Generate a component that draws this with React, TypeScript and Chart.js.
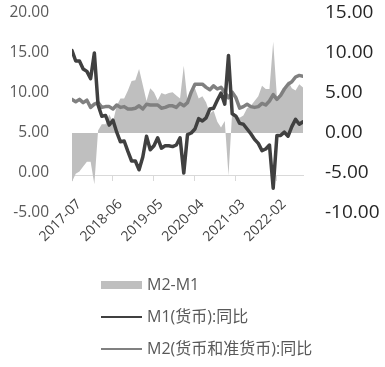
import React, { useEffect, useRef } from "react";
import { Chart, registerables } from "chart.js";

Chart.register(...registerables);

const FONT = '"Open Sans", "Noto Sans CJK SC", sans-serif';

const months = [
  "2017-07", "2017-08", "2017-09", "2017-10", "2017-11", "2017-12",
  "2018-01", "2018-02", "2018-03", "2018-04", "2018-05", "2018-06",
  "2018-07", "2018-08", "2018-09", "2018-10", "2018-11", "2018-12",
  "2019-01", "2019-02", "2019-03", "2019-04", "2019-05", "2019-06",
  "2019-07", "2019-08", "2019-09", "2019-10", "2019-11", "2019-12",
  "2020-01", "2020-02", "2020-03", "2020-04", "2020-05", "2020-06",
  "2020-07", "2020-08", "2020-09", "2020-10", "2020-11", "2020-12",
  "2021-01", "2021-02", "2021-03", "2021-04", "2021-05", "2021-06",
  "2021-07", "2021-08", "2021-09", "2021-10", "2021-11", "2021-12",
  "2022-01", "2022-02", "2022-03", "2022-04", "2022-05", "2022-06",
  "2022-07", "2022-08", "2022-09",
];

// M1 (货币) 同比, %
const m1 = [
  15.3, 14.0, 14.0, 13.0, 12.7, 11.8,
  15.0, 8.5, 7.1, 7.2, 6.0, 6.6,
  5.1, 3.9, 4.0, 2.7, 1.5, 1.5,
  0.4, 2.0, 4.6, 2.9, 3.4, 4.4,
  3.1, 3.4, 3.4, 3.3, 3.5, 4.4,
  0.0, 4.8, 5.0, 5.5, 6.8, 6.5,
  6.9, 8.0, 8.1, 9.1, 10.0, 8.6,
  14.7, 7.4, 7.1, 6.2, 6.1, 5.5,
  4.9, 4.2, 3.7, 2.8, 3.0, 3.5,
  -1.9, 4.7, 4.7, 5.1, 4.6, 5.8,
  6.7, 6.1, 6.4,
];

// M2 (货币和准货币) 同比, %
const m2 = [
  9.2, 8.9, 9.2, 8.8, 9.1, 8.2,
  8.6, 8.8, 8.2, 8.3, 8.3, 8.0,
  8.5, 8.2, 8.3, 8.0, 8.0, 8.1,
  8.4, 8.0, 8.6, 8.5, 8.5, 8.5,
  8.1, 8.2, 8.4, 8.4, 8.2, 8.7,
  8.4, 8.8, 10.1, 11.1, 11.1, 11.1,
  10.7, 10.4, 10.9, 10.5, 10.7, 10.1,
  9.4, 10.1, 9.4, 8.1, 8.3, 8.6,
  8.3, 8.2, 8.3, 8.7, 8.5, 9.0,
  9.8, 9.2, 9.7, 10.5, 11.1, 11.4,
  12.0, 12.2, 12.1,
];

// M2-M1 spread (right axis), percentage points
const spread = [
  -6.1, -5.1, -4.8, -4.2, -3.6, -3.6,
  -6.4, 0.3, 1.1, 1.1, 2.3, 1.4,
  3.4, 4.3, 4.3, 5.3, 6.5, 6.6,
  8.0, 6.0, 4.0, 5.6, 5.1, 4.1,
  5.0, 4.8, 5.0, 5.1, 4.7, 4.3,
  8.4, 4.0, 5.1, 5.6, 4.3, 4.6,
  3.8, 2.4, 2.8, 1.4, 0.7, 1.5,
  -5.3, 2.7, 2.3, 1.9, 2.2, 3.1,
  3.4, 4.0, 4.6, 5.9, 5.5, 5.5,
  11.4, 4.5, 5.0, 5.4, 6.5, 5.6,
  5.3, 6.1, 5.7,
];

const seriesNames = ["M2-M1", "M1(货币):同比", "M2(货币和准货币):同比"];

const leftAxis = { min: -5, max: 20, step: 5 };
const rightAxis = { min: -10, max: 15, step: 5 };
const xTickStep = 11;

const toPoints = (arr: number[]) => arr.map((v, i) => ({ x: i, y: v }));

const stackedLegend = {
  id: "stackedLegend",
  afterDraw(chart: any) {
    const ctx = chart.ctx;
    ctx.save();
    chart.data.datasets.forEach((ds: any, i: number) => {
      const y = 285 + i * 32;
      if (ds.fill) {
        ctx.fillStyle = ds.backgroundColor;
        ctx.fillRect(101, y - 4, 41, 8);
      } else {
        ctx.strokeStyle = ds.borderColor;
        ctx.lineWidth = 2;
        ctx.beginPath();
        ctx.moveTo(101, y);
        ctx.lineTo(142, y);
        ctx.stroke();
      }
      ctx.fillStyle = "#595959";
      ctx.font = `16px ${FONT}`;
      ctx.textAlign = "left";
      ctx.textBaseline = "middle";
      ctx.fillText(ds.label, 147, y);
    });
    ctx.restore();
  },
};

export default function App() {
  const ref = useRef<HTMLCanvasElement | null>(null);

  useEffect(() => {
    if (!ref.current) return;
    Chart.defaults.font.family = FONT;
    const fmt = (v: any) => Number(v).toFixed(2);
    const chart = new Chart(ref.current, {
      type: "line",
      data: {
        datasets: [
          {
            label: seriesNames[0],
            data: toPoints(spread),
            yAxisID: "y1",
            fill: "origin",
            backgroundColor: "#bfbfbf",
            borderColor: "rgba(0,0,0,0)",
            borderWidth: 0,
            pointRadius: 0,
            order: 3,
          },
          {
            label: seriesNames[1],
            data: toPoints(m1),
            yAxisID: "y",
            fill: false,
            borderColor: "#404040",
            borderWidth: 3.5,
            borderJoinStyle: "round",
            borderCapStyle: "round",
            pointRadius: 0,
            order: 1,
          },
          {
            label: seriesNames[2],
            data: toPoints(m2),
            yAxisID: "y",
            fill: false,
            borderColor: "#808080",
            borderWidth: 3.5,
            borderJoinStyle: "round",
            borderCapStyle: "round",
            pointRadius: 0,
            order: 2,
          },
        ],
      },
      options: {
        animation: false,
        responsive: false,
        layout: { padding: { top: 13, left: 0, right: 0, bottom: 154 } },
        plugins: { legend: { display: false }, tooltip: { enabled: false } },
        elements: { line: { tension: 0 } },
        scales: {
          x: {
            type: "linear",
            position: { y: -0.25 } as any,
            min: 0,
            max: months.length - 1,
            afterFit: (s: any) => {
              s.paddingLeft = 0;
              s.paddingRight = 0;
            },
            grid: { drawOnChartArea: false, drawTicks: true, tickLength: 5, color: "#d9d9d9" },
            border: { display: true, color: "#d9d9d9", width: 1 },
            ticks: {
              stepSize: xTickStep,
              includeBounds: false,
              autoSkip: false,
              minRotation: 45,
              maxRotation: 45,
              padding: 16,
              labelOffset: 7,
              color: "#404040",
              font: { size: 14 },
              callback: (v: any) => months[Number(v)] ?? "",
            },
          },
          y: {
            position: "left",
            min: leftAxis.min,
            max: leftAxis.max,
            afterFit: (s: any) => {
              s.width = 72;
              s.paddingTop = 0;
              s.paddingBottom = 0;
            },
            grid: { display: false, drawTicks: false },
            border: { display: false },
            ticks: { stepSize: leftAxis.step, padding: 23, color: "#595959", font: { size: 15.5 }, callback: fmt },
          },
          y1: {
            position: "right",
            min: rightAxis.min,
            max: rightAxis.max,
            afterFit: (s: any) => {
              s.width = 82;
              s.paddingTop = 0;
              s.paddingBottom = 0;
            },
            grid: { display: false, drawTicks: false },
            border: { display: false },
            ticks: { stepSize: rightAxis.step, padding: 22, color: "#262626", font: { size: 19 }, callback: fmt },
          },
        },
      },
      plugins: [stackedLegend],
    });
    return () => chart.destroy();
  }, []);

  return (
    <div style={{ position: "fixed", left: 0, top: 0, width: 385, height: 367, background: "#fff" }}>
      <canvas ref={ref} width={385} height={367} style={{ display: "block" }} />
    </div>
  );
}
